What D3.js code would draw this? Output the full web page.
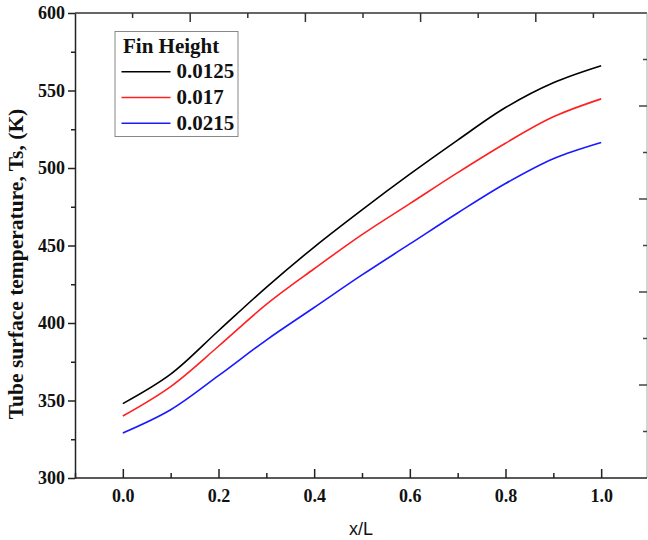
<!DOCTYPE html>
<html>
  <head>
    <meta charset="utf-8">
    <title>Tube surface temperature</title>
    <script src="https://d3js.org/d3.v7.min.js"></script>
    <style>
      body { margin: 0; background: #fff; }
      svg text { font-family: "Liberation Serif", "Times New Roman", serif; font-weight: bold; fill: #111; }
      .axis path, .axis line { stroke: #222; stroke-width: 1.5; }
    </style>
  </head>
  <body>
    <div id="chart"></div>
    <script>
      // x/L positions
      var xs = [0, 0.1, 0.2, 0.3, 0.4, 0.5, 0.6, 0.7, 0.8, 0.9, 1.0];
      // Ts (K) for each fin height
      var ts0125 = [348, 367, 395, 423, 449, 473, 496, 518, 539, 555, 566];
      var ts017  = [340, 359, 385, 412, 435, 457, 477, 497, 516, 533, 544.6];
      var ts0215 = [329, 344, 366, 389, 410, 431, 451, 471, 490, 506, 516.5];
      var seriesNames = ["0.0125", "0.017", "0.0215"];
      var seriesColors = ["#000000", "#ff2020", "#1a1aff"];
      var xTicks = [0, 0.2, 0.4, 0.6, 0.8, 1.0];
      var xMinor = [-0.1, 0.1, 0.3, 0.5, 0.7, 0.9];
      var yTicks = [300, 350, 400, 450, 500, 550, 600];
      var yMinor = [325, 375, 425, 475, 525, 575];

      var W = 648, H = 540;
      var pLeft = 75, pRight = 647, pTop = 13, pBottom = 478;

      var svg = d3.select("#chart").append("svg")
        .attr("width", W).attr("height", H);

      var x = d3.scaleLinear().domain([-0.1, 1.1]).range([pLeft, 649]);
      var y = d3.scaleLinear().domain([300, 600]).range([pBottom, pTop]);

      // frame: top and right edges carry their own tick marks
      var xTop = d3.scaleLinear().domain([0, 1]).range([pLeft, 651]);
      var yRight = d3.scaleLinear().domain([0, 1]).range([pBottom, pTop]);

      svg.append("line").attr("x1", pLeft).attr("x2", pRight).attr("y1", pTop).attr("y2", pTop)
        .attr("stroke", "#333").attr("stroke-width", 1.5);
      svg.append("line").attr("x1", pRight).attr("x2", pRight).attr("y1", pTop).attr("y2", pBottom)
        .attr("stroke", "#aaa").attr("stroke-width", 1);

      d3.range(1, 10).forEach(function(i) {
        var v = i / 10, major = i % 2 === 0;
        svg.append("line")
          .attr("x1", xTop(v)).attr("x2", xTop(v))
          .attr("y1", pTop).attr("y2", pTop + (major ? 9 : 5))
          .attr("stroke", "#333").attr("stroke-width", 1.5);
        svg.append("line")
          .attr("x1", pRight).attr("x2", pRight - (major ? 8 : 4))
          .attr("y1", yRight(v)).attr("y2", yRight(v))
          .attr("stroke", "#444").attr("stroke-width", 1.5);
      });

      // bottom axis, ticks pointing inward
      svg.append("g").attr("class", "axis")
        .attr("transform", "translate(0," + pBottom + ")")
        .call(d3.axisBottom(x).tickValues(xTicks).tickSizeInner(-9).tickSizeOuter(0)
          .tickPadding(20).tickFormat(d3.format(".1f")))
        .call(function(g) {
          g.select(".domain").attr("d", "M" + pLeft + ",0H" + pRight);
          g.selectAll("text").attr("font-size", 18).attr("y", 11).attr("dy", "0.71em");
        });
      svg.append("g").attr("class", "axis")
        .attr("transform", "translate(0," + pBottom + ")")
        .call(d3.axisBottom(x).tickValues(xMinor).tickSizeInner(-5).tickSizeOuter(0).tickFormat(""))
        .call(function(g) { g.select(".domain").remove(); });

      // left axis, ticks pointing outward
      svg.append("g").attr("class", "axis")
        .attr("transform", "translate(" + pLeft + ",0)")
        .call(d3.axisLeft(y).tickValues(yTicks).tickSizeInner(7).tickSizeOuter(0).tickPadding(3))
        .call(function(g) {
          g.selectAll("text").attr("font-size", 18);
        });
      svg.append("g").attr("class", "axis")
        .attr("transform", "translate(" + pLeft + ",0)")
        .call(d3.axisLeft(y).tickValues(yMinor).tickSizeInner(4).tickSizeOuter(0).tickFormat(""))
        .call(function(g) { g.select(".domain").remove(); });

      // series
      var series = [ts0125, ts017, ts0215];
      var line = d3.line()
        .x(function(d, i) { return x(xs[i]); })
        .y(function(d) { return y(d); })
        .curve(d3.curveCatmullRom.alpha(0.5));

      series.forEach(function(s, k) {
        svg.append("path")
          .datum(s)
          .attr("fill", "none")
          .attr("stroke", seriesColors[k])
          .attr("stroke-width", 1.6)
          .attr("d", line);
      });

      // axis titles
      svg.append("text")
        .attr("x", (pLeft + pRight) / 2).attr("y", 535)
        .attr("text-anchor", "middle")
        .style("font-family", "'Liberation Sans', Arial, sans-serif")
        .style("font-weight", "normal")
        .attr("font-size", 18)
        .text("x/L");

      svg.append("text")
        .attr("transform", "translate(23,264) rotate(-90)")
        .attr("text-anchor", "middle")
        .attr("font-size", 21.5)
        .text("Tube surface temperature, Ts, (K)");

      // legend
      var lg = svg.append("g");
      lg.append("rect")
        .attr("x", 115).attr("y", 31.5).attr("width", 123).attr("height", 105)
        .attr("fill", "#fff").attr("stroke", "#888").attr("stroke-width", 1);
      lg.append("text").attr("x", 123).attr("y", 53).attr("font-size", 21).text("Fin Height");
      seriesNames.forEach(function(name, k) {
        var ly = 71.7 + k * 25.8;
        lg.append("line")
          .attr("x1", 121.5).attr("x2", 170.5).attr("y1", ly).attr("y2", ly)
          .attr("stroke", seriesColors[k]).attr("stroke-width", 1.5);
        lg.append("text").attr("x", 176.5).attr("y", ly + 6.5).attr("font-size", 21).text(name);
      });
    </script>
  </body>
</html>
